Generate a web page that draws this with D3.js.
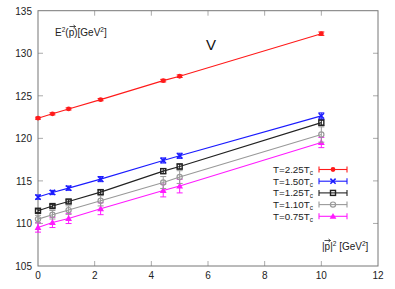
<!DOCTYPE html>
<html>
<head>
<meta charset="utf-8">
<script src="https://cdn.jsdelivr.net/npm/d3@7"></script>
<style>
  body { margin: 0; background: #fff; }
  svg { font-family: "Liberation Sans", Arial, sans-serif; }
</style>
</head>
<body>
<div id="chart"></div>
<script>
// momentum values |p|^2 in GeV^2
var pSquared = [0, 0.51, 1.08, 2.21, 4.42, 5.0, 10.0];

var seriesNames = ['T=2.25T', 'T=1.50T', 'T=1.25T', 'T=1.10T', 'T=0.75T'];

var e2_225 = [122.37, 122.88, 123.46, 124.55, 126.78, 127.30, 132.30];
var err_225 = [0.12, 0.12, 0.12, 0.13, 0.15, 0.15, 0.2];
var e2_150 = [113.10, 113.64, 114.15, 115.21, 117.40, 117.95, 122.64];
var err_150 = [0.25, 0.25, 0.25, 0.3, 0.3, 0.3, 0.35];
var e2_125 = [111.49, 112.04, 112.58, 113.68, 116.15, 116.69, 121.85];
var err_125 = [0.2, 0.2, 0.2, 0.25, 0.3, 0.3, 0.35];
var e2_110 = [110.51, 111.02, 111.57, 112.66, 114.81, 115.45, 120.45];
var err_110 = [0.45, 0.5, 0.5, 0.6, 0.7, 0.75, 0.9];
var e2_075 = [109.53, 110.12, 110.59, 111.73, 113.87, 114.39, 119.51];
var err_075 = [0.55, 0.6, 0.6, 0.7, 0.75, 0.8, 0.6];

var xTicks = [0, 2, 4, 6, 8, 10, 12];
var yTicks = [105, 110, 115, 120, 125, 130, 135];

var series = [
  {name: seriesNames[0], y: e2_225, err: err_225, color: '#ff1a1a', sym: 'dot'},
  {name: seriesNames[1], y: e2_150, err: err_150, color: '#1a1aff', sym: 'cross'},
  {name: seriesNames[2], y: e2_125, err: err_125, color: '#222222', sym: 'square'},
  {name: seriesNames[3], y: e2_110, err: err_110, color: '#999999', sym: 'circle'},
  {name: seriesNames[4], y: e2_075, err: err_075, color: '#ff1aff', sym: 'triangle'}
];

var W = 395, H = 289;
var margin = {left: 38, right: 17, top: 10.7, bottom: 23};

var svg = d3.select('#chart').append('svg')
    .attr('width', W)
    .attr('height', H);

var x = d3.scaleLinear().domain([0, 12]).range([margin.left, W - margin.right]);
var y = d3.scaleLinear().domain([105, 135]).range([H - margin.bottom, margin.top]);

var axisColor = '#777';

// ticks on all four sides, pointing inward
var tickLen = 5;
xTicks.forEach(function (t) {
  if (t === 0 || t === 12) return;
  svg.append('line').attr('x1', x(t)).attr('x2', x(t))
    .attr('y1', y(105)).attr('y2', y(105) - tickLen)
    .attr('stroke', '#aaa');
  svg.append('line').attr('x1', x(t)).attr('x2', x(t))
    .attr('y1', y(135)).attr('y2', y(135) + tickLen)
    .attr('stroke', '#aaa');
});
yTicks.forEach(function (t) {
  if (t === 105 || t === 135) return;
  svg.append('line').attr('x1', x(0)).attr('x2', x(0) + tickLen)
    .attr('y1', y(t)).attr('y2', y(t))
    .attr('stroke', '#aaa');
  svg.append('line').attr('x1', x(12)).attr('x2', x(12) - tickLen)
    .attr('y1', y(t)).attr('y2', y(t))
    .attr('stroke', '#aaa');
});

svg.append('rect')
  .attr('x', x(0)).attr('y', y(135))
  .attr('width', x(12) - x(0)).attr('height', y(105) - y(135))
  .attr('fill', 'none').attr('stroke', axisColor).attr('stroke-width', 1);

svg.selectAll('.xlab').data(xTicks).enter().append('text')
  .attr('x', function (d) { return x(d); })
  .attr('y', H - 10)
  .attr('text-anchor', 'middle')
  .attr('font-size', 10)
  .attr('fill', '#222')
  .text(function (d) { return d; });

svg.selectAll('.ylab').data(yTicks).enter().append('text')
  .attr('x', x(0) - 6)
  .attr('y', function (d) { return y(d) + 4; })
  .attr('text-anchor', 'end')
  .attr('font-size', 10)
  .attr('fill', '#222')
  .text(function (d) { return d; });

// small vector arrow drawn over a letter
function vecArrow(x0, x1, yy) {
  svg.append('path')
    .attr('d', 'M' + x0 + ',' + yy + 'L' + x1 + ',' + yy +
      'M' + (x1 - 2) + ',' + (yy - 1.5) + 'L' + x1 + ',' + yy + 'L' + (x1 - 2) + ',' + (yy + 1.5))
    .attr('fill', 'none').attr('stroke', '#222').attr('stroke-width', 0.8);
}

// axis titles
var yt = svg.append('text').attr('x', 55).attr('y', 36).attr('font-size', 10).attr('fill', '#222');
yt.append('tspan').text('E');
yt.append('tspan').attr('font-size', 6.5).attr('dy', -4).text('2');
yt.append('tspan').attr('dy', 4).text('(p)[GeV');
yt.append('tspan').attr('font-size', 6.5).attr('dy', -4).text('2');
yt.append('tspan').attr('dy', 4).text(']');
vecArrow(69.5, 75.5, 26.5);

var xt = svg.append('text').attr('x', 322).attr('y', 250).attr('font-size', 10).attr('fill', '#222');
xt.append('tspan').text('|p|');
xt.append('tspan').attr('font-size', 6.5).attr('dy', -4).text('2');
xt.append('tspan').attr('dy', 4).text(' [GeV');
xt.append('tspan').attr('font-size', 6.5).attr('dy', -4).text('2');
xt.append('tspan').attr('dy', 4).text(']');
vecArrow(324.5, 330.5, 240.5);

svg.append('text').attr('x', 211).attr('y', 50).attr('font-size', 15)
  .attr('text-anchor', 'middle').attr('fill', '#111').text('V');

function drawSymbol(g, sym, cx, cy, color) {
  if (sym === 'dot') {
    g.append('circle').attr('cx', cx).attr('cy', cy).attr('r', 2.4).attr('fill', color);
  } else if (sym === 'cross') {
    g.append('path').attr('d', 'M' + (cx - 2.6) + ',' + (cy - 2.6) + 'L' + (cx + 2.6) + ',' + (cy + 2.6) +
        'M' + (cx - 2.6) + ',' + (cy + 2.6) + 'L' + (cx + 2.6) + ',' + (cy - 2.6))
      .attr('stroke', color).attr('stroke-width', 1.5);
  } else if (sym === 'square') {
    g.append('rect').attr('x', cx - 2.5).attr('y', cy - 2.5).attr('width', 5).attr('height', 5)
      .attr('fill', 'none').attr('stroke', color).attr('stroke-width', 1.4);
  } else if (sym === 'circle') {
    g.append('circle').attr('cx', cx).attr('cy', cy).attr('r', 2.6)
      .attr('fill', 'none').attr('stroke', color).attr('stroke-width', 1.2);
  } else if (sym === 'triangle') {
    g.append('path').attr('d', d3.symbol().type(d3.symbolTriangle).size(20)())
      .attr('transform', 'translate(' + cx + ',' + (cy + 0.5) + ')').attr('fill', color);
  }
}

var line = d3.line()
  .x(function (d) { return x(d[0]); })
  .y(function (d) { return y(d[1]); });

series.slice().reverse().forEach(function (s) {
  var g = svg.append('g');
  var pts = pSquared.map(function (p, i) { return [p, s.y[i]]; });
  g.append('path').datum(pts).attr('d', line)
    .attr('fill', 'none').attr('stroke', s.color).attr('stroke-width', 1.1);
  pts.forEach(function (d, i) {
    var cx = x(d[0]);
    var y0 = y(d[1] - s.err[i]), y1 = y(d[1] + s.err[i]);
    g.append('line').attr('x1', cx).attr('x2', cx).attr('y1', y0).attr('y2', y1)
      .attr('stroke', s.color).attr('stroke-width', 1);
    [y0, y1].forEach(function (yy) {
      g.append('line').attr('x1', cx - 3).attr('x2', cx + 3).attr('y1', yy).attr('y2', yy)
        .attr('stroke', s.color).attr('stroke-width', 1);
    });
    drawSymbol(g, s.sym, cx, y(d[1]), s.color);
  });
});

// legend
var legY0 = 169.5, legStep = 11.7;
series.forEach(function (s, i) {
  var ly = legY0 + i * legStep;
  var t = svg.append('text').attr('x', 313).attr('y', ly + 3.5)
    .attr('text-anchor', 'end').attr('font-size', 9.8).attr('fill', '#222');
  t.append('tspan').text(s.name);
  t.append('tspan').attr('font-size', 6.5).attr('dy', 2).text('c');
  svg.append('line').attr('x1', 319).attr('x2', 347).attr('y1', ly).attr('y2', ly)
    .attr('stroke', s.color).attr('stroke-width', 1.1);
  [319, 347].forEach(function (lx) {
    svg.append('line').attr('x1', lx).attr('x2', lx).attr('y1', ly - 3).attr('y2', ly + 3)
      .attr('stroke', s.color).attr('stroke-width', 1.1);
  });
  drawSymbol(svg, s.sym, 333, ly, s.color);
});
</script>
</body>
</html>
